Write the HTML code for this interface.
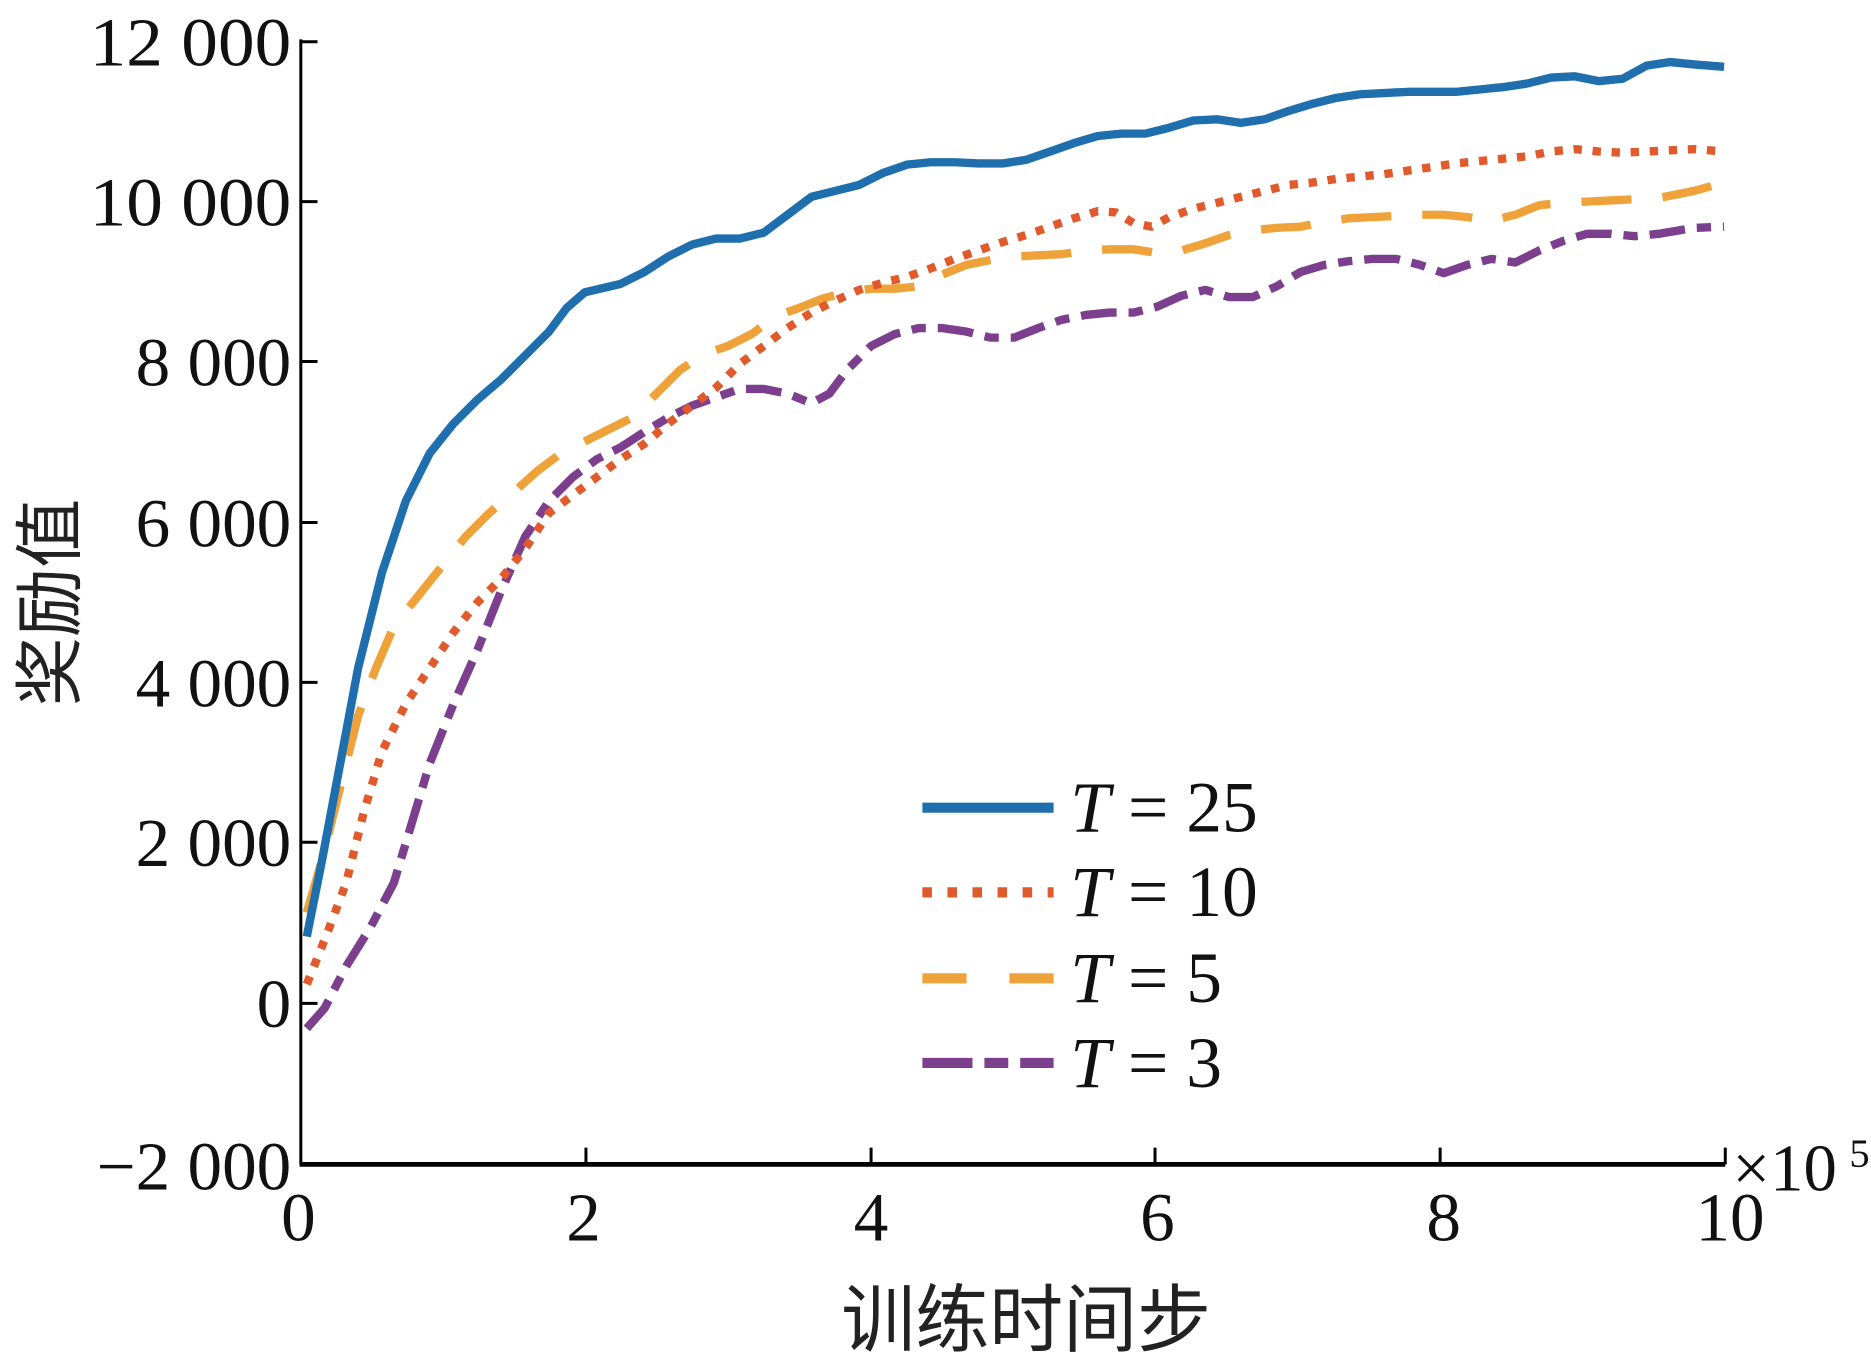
<!DOCTYPE html>
<html><head><meta charset="utf-8"><style>html,body{margin:0;padding:0;background:#fff;width:1871px;height:1366px;overflow:hidden}</style></head>
<body>
<svg width="1871" height="1366" viewBox="0 0 1568 1145" xmlns="http://www.w3.org/2000/svg" font-family="'Liberation Serif','Noto Serif CJK SC',serif">
<g fill="none" stroke-linejoin="round" stroke-width="7">
<polyline stroke="#7b3f8e" stroke-dasharray="30 10 12 10" points="257,862 272,845 290,810 310,778 330,740 345,690 360,640 380,590 400,545 420,495 440,450 460,420 480,400 500,385 520,375 540,362 560,350 580,340 600,333 620,326 640,326 660,330 680,338 695,330 710,310 730,290 750,280 770,275 790,275 810,278 830,283 850,283 870,275 890,268 910,264 930,262 950,262 970,257 990,248 1010,243 1030,249 1050,249 1070,240 1090,228 1110,222 1130,219 1150,217 1170,217 1190,222 1210,229 1230,222 1250,217 1270,220 1290,210 1310,202 1330,196 1350,196 1370,198 1390,196 1420,191 1445,190"/>
<polyline stroke="#f0a23a" stroke-dasharray="42 26" points="257,765 270,720 285,660 300,600 315,560 330,525 350,500 370,475 390,450 410,430 430,413 450,395 470,380 490,370 510,360 530,350 550,330 570,310 590,297 610,290 630,280 650,265 670,258 690,250 710,245 730,242 750,242 770,240 790,230 810,222 830,218 850,215 870,214 890,213 910,210 930,209 950,209 970,212 990,210 1010,204 1030,197 1050,193 1070,191 1090,190 1110,186 1130,183 1150,182 1170,181 1190,180 1210,180 1230,182 1250,185 1270,180 1290,172 1310,170 1330,169 1350,168 1370,167 1390,166 1420,160 1445,153"/>
<polyline stroke="#e05a2b" stroke-dasharray="7 9" points="257,825 275,780 290,740 305,680 320,630 340,590 360,560 380,530 400,505 420,485 440,460 460,430 480,415 500,400 520,385 540,372 560,355 580,340 600,325 620,305 640,290 660,275 680,262 700,252 720,243 740,237 760,232 780,225 800,217 820,210 840,203 860,197 880,190 900,183 920,177 935,178 950,187 965,190 980,182 1000,175 1020,170 1040,165 1060,160 1080,155 1100,153 1120,150 1140,148 1160,146 1180,143 1200,140 1220,137 1240,135 1260,133 1280,131 1300,127 1320,125 1340,127 1360,128 1380,127 1400,126 1420,125 1445,127"/>
<polyline stroke="#1f6fae" points="257,785 270,720 285,640 300,560 320,480 340,420 360,380 380,355 400,335 420,318 440,298 460,278 475,258 490,245 520,238 540,228 560,215 580,205 600,200 620,200 640,195 660,180 680,165 700,160 720,155 740,145 760,138 780,136 800,136 820,137 840,137 860,134 880,127 900,120 920,114 940,112 960,112 980,107 1000,101 1020,100 1040,103 1060,100 1080,93 1100,87 1120,82 1140,79 1160,78 1180,77 1200,77 1220,77 1240,75 1260,73 1280,70 1300,65 1320,64 1340,68 1360,66 1380,55 1400,52 1420,54 1445,56"/>
</g>
<g stroke="#000" fill="none">
<path d="M252,33 V976" stroke-width="2.5"/>
<path d="M251,976 H1446" stroke-width="4"/>
<path stroke-width="2.5" d="M252,35 h14 M252,169 h14 M252,303 h14 M252,438 h14 M252,572 h14 M252,706 h14 M252,841 h14 M491,976 v-14 M730,976 v-14 M968,976 v-14 M1207,976 v-14 M1446,976 v-14"/>
</g>
<g font-size="58" text-anchor="end" fill="#111">
<text x="244" y="55" textLength="169" lengthAdjust="spacingAndGlyphs">12 000</text>
<text x="244" y="189" textLength="169" lengthAdjust="spacingAndGlyphs">10 000</text>
<text x="244" y="323">8 000</text>
<text x="244" y="458">6 000</text>
<text x="244" y="592">4 000</text>
<text x="244" y="726">2 000</text>
<text x="244" y="861">0</text>
<text x="244" y="997">−2 000</text>
</g>
<g font-size="58" text-anchor="middle" fill="#111">
<text x="250" y="1040">0</text>
<text x="489" y="1040">2</text>
<text x="730" y="1040">4</text>
<text x="970" y="1040">6</text>
<text x="1210" y="1040">8</text>
<text x="1450" y="1040">10</text>
</g>
<text x="1452" y="998" font-size="56" fill="#111">×10</text>
<text x="1550" y="978" font-size="34" fill="#111">5</text>
<text x="860" y="1128" font-size="62" text-anchor="middle" fill="#222" font-family="'Noto Sans CJK SC',sans-serif">训练时间步</text>
<text transform="translate(62,505) rotate(-90)" font-size="58" text-anchor="middle" fill="#222" font-family="'Noto Sans CJK SC',sans-serif">奖励值</text>
<g stroke-width="8.5">
<line x1="773" y1="677" x2="883" y2="677" stroke="#1f6fae"/>
<line x1="773" y1="748" x2="883" y2="748" stroke="#e05a2b" stroke-dasharray="8 13"/>
<line x1="773" y1="820" x2="883" y2="820" stroke="#f0a23a" stroke-dasharray="37 36"/>
<line x1="773" y1="891" x2="883" y2="891" stroke="#7b3f8e" stroke-dasharray="42 10 20 10"/>
</g>
<g font-size="60" fill="#111">
<text x="897" y="697"><tspan font-style="italic">T</tspan> = 25</text>
<text x="897" y="768"><tspan font-style="italic">T</tspan> = 10</text>
<text x="897" y="840"><tspan font-style="italic">T</tspan> = 5</text>
<text x="897" y="911"><tspan font-style="italic">T</tspan> = 3</text>
</g>
</svg>
</body></html>
